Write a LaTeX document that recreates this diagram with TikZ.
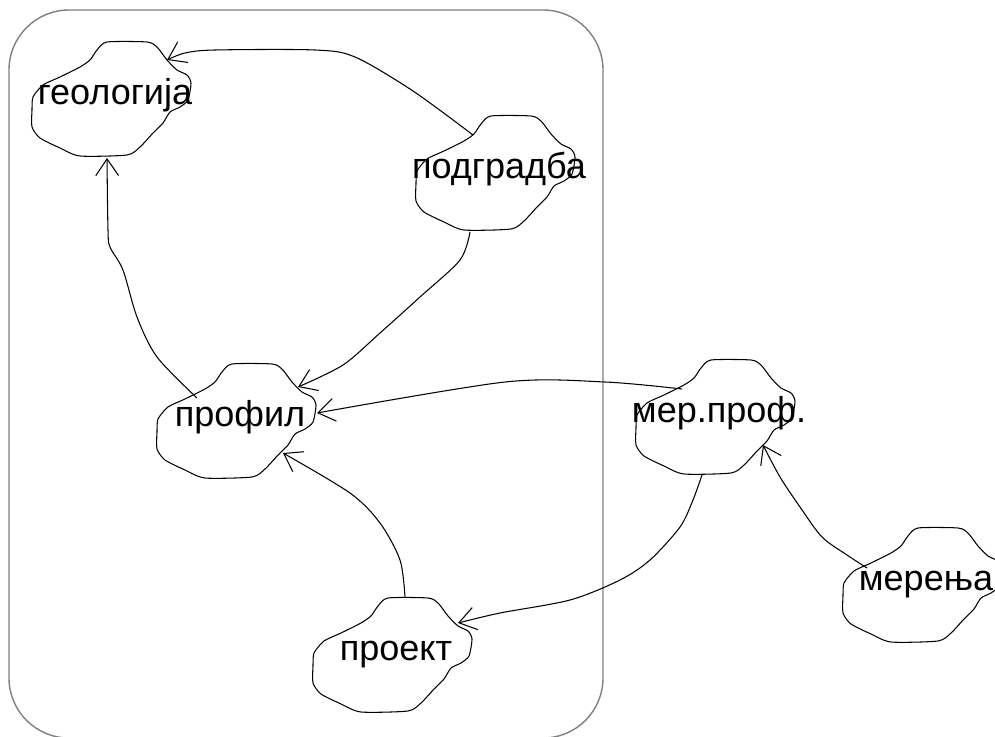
\documentclass[tikz,border=0pt]{standalone}
\usepackage{fontspec}
\setmainfont{Liberation Sans}
\usepackage{tikz}
\usetikzlibrary{calc}
\usetikzlibrary{arrows.meta}
\tikzset{
	cloudtext/.style={font=\fontsize{20.5}{24}\selectfont,text height=12pt,text depth=6.3pt,inner sep=0pt},
	link/.style={line width=0.6pt,-{Straight Barb[length=9.5pt,width=13pt]}},
	frame/.style={draw=gray,line width=0.8pt,rounded corners=1.2cm}
}
\newcommand{\blobat}[1]{%
	\draw[line width=0.6pt,shift={($(#1)+(-3,0)$)}] plot[smooth cycle,tension=0.4] coordinates {(-5,-57) (35,-57) (45,-52) (55,-39) (65,-29) (75,-24) (79,-16) (76,1) (68,8) (58,13) (51,24) (41,34) (28,48) (15,56) (-32,57) (-52,49) (-72,39) (-80,28) (-80,11) (-79,-2) (-69,-14) (-52,-22) (-32,-32) (-22,-39) (-15,-49)};}
\begin{document}
\begin{tikzpicture}[x=0.02cm,y=-0.02cm]
	\useasboundingbox (0,0) rectangle (995,737);
	\draw[frame] (9,10) rectangle (603,738);
	\node[cloudtext] (geologija) at (115,99) {геологија};
	\node[cloudtext] (podgradba) at (499,173) {подградба};
	\node[cloudtext] (profil) at (240,421) {профил};
	\node[cloudtext] (merprof) at (719,417) {мер.проф.};
	\node[cloudtext] (merenja) at (926,585) {мерења};
	\node[cloudtext] (proekt) at (396,655) {проект};
	\blobat{geologija}
	\blobat{podgradba}
	\blobat{profil}
	\blobat{merprof}
	\blobat{merenja}
	\blobat{proekt}
	\draw[link] plot[smooth] coordinates {($(podgradba)+(-26,-38)$) (413,91) (355,57) (315,50) (215,50) (185,53) ($(geologija)+(52,-39)$)};
	\draw[link] plot[smooth] coordinates {($(profil)+(-43,-23)$) (157,357) (137,317) (123,270) (110,247) (108,230) ($(geologija)+(-8,59)$)};
	\draw[link] plot[smooth] coordinates {($(podgradba)+(-29,59)$) (460,260) (420,297) (380,333) (343,365) ($(profil)+(58,-34)$)};
	\draw[link] plot[smooth] coordinates {($(merprof)+(-37,-28)$) (605,382) (505,382) ($(profil)+(77,-8)$)};
	\draw[link] plot[smooth] coordinates {($(proekt)+(9,-58)$) (400,560) (380,523) (350,493) ($(profil)+(43,32)$)};
	\draw[link] plot[smooth] coordinates {($(merprof)+(-17,58)$) (693,500) (680,527) (650,560) (620,580) (570,600) (500,613) ($(proekt)+(62,-32)$)};
	\draw[link] plot[smooth] coordinates {($(merenja)+(-59,-17)$) (847,555) (822,537) (800,507) (780,477) ($(merprof)+(44,28)$)};
\end{tikzpicture}
\end{document}
